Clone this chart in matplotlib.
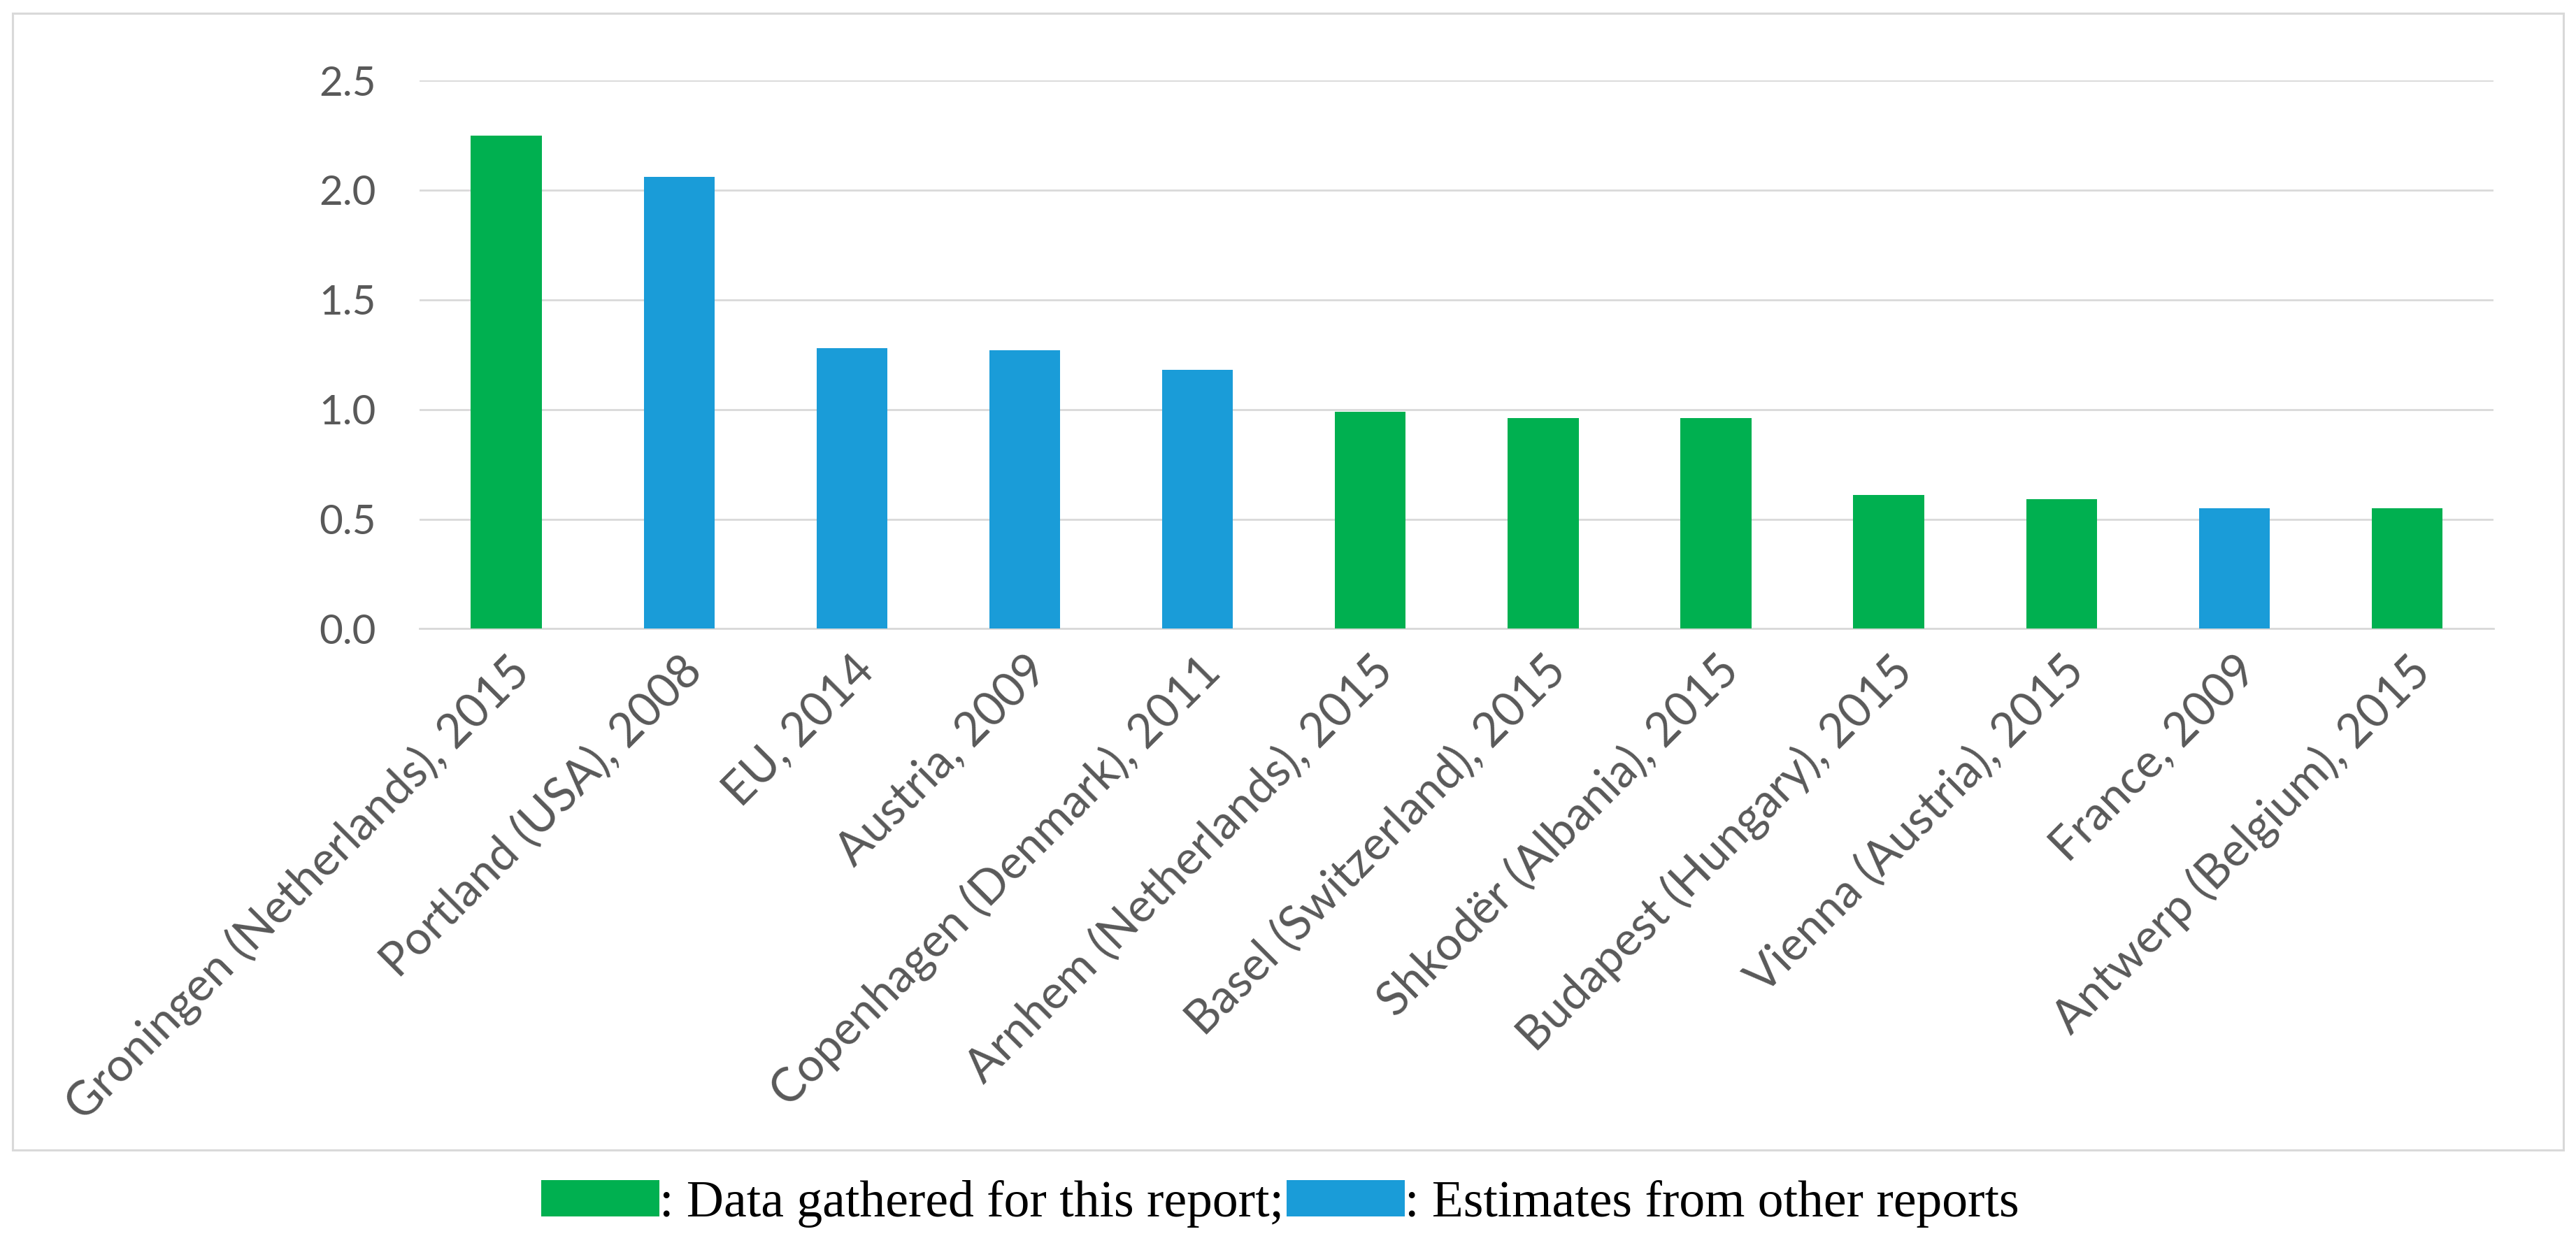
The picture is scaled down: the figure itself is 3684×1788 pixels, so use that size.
import matplotlib
matplotlib.use("Agg")
import matplotlib.pyplot as plt
from matplotlib.patches import Patch, Rectangle
from matplotlib.ticker import FormatStrFormatter

# values
categories = [
    "Groningen (Netherlands), 2015",
    "Portland (USA), 2008",
    "EU, 2014",
    "Austria, 2009",
    "Copenhagen (Denmark), 2011",
    "Arnhem (Netherlands), 2015",
    "Basel (Switzerland), 2015",
    "Shkodër (Albania), 2015",
    "Budapest (Hungary), 2015",
    "Vienna (Austria), 2015",
    "France, 2009",
    "Antwerp (Belgium), 2015",
]
values = [2.25, 2.06, 1.28, 1.27, 1.18, 0.99, 0.96, 0.96, 0.61, 0.59, 0.55, 0.55]
sources = ["own", "other", "other", "other", "other", "own",
           "own", "own", "own", "own", "other", "own"]
yticks = [0.0, 0.5, 1.0, 1.5, 2.0, 2.5]
legend_labels = [": Data gathered for this report;", ": Estimates from other reports"]

GREEN = "#00B050"
BLUE = "#1A9CD8"
GRID = "#D9D9D9"
TEXT = "#595959"
colors = [GREEN if s == "own" else BLUE for s in sources]

fig = plt.figure(figsize=(36.84, 17.88), dpi=100)
fig.patch.set_facecolor("white")

# outer chart frame
fig.add_artist(Rectangle((0.005, 0.08), 0.99, 0.9095, transform=fig.transFigure,
                         fill=False, edgecolor=GRID, linewidth=2.2))

ax = fig.add_axes([0.163, 0.497, 0.805, 0.4386])
x = list(range(len(categories)))
ax.bar(x, values, width=0.41, color=colors, zorder=3)

ax.set_xlim(-0.5, len(categories) - 0.5)
ax.set_ylim(0, 2.5)
ax.set_yticks(yticks)
ax.yaxis.set_major_formatter(FormatStrFormatter("%.1f"))
ax.grid(axis="y", color=GRID, linewidth=2.0, zorder=0)
for side in ["top", "right", "left"]:
    ax.spines[side].set_visible(False)
ax.spines["bottom"].set_color(GRID)
ax.spines["bottom"].set_linewidth(2.0)
ax.tick_params(axis="both", length=0, colors=TEXT)
ax.tick_params(axis="y", labelsize=42, pad=45)

ax.set_xticks(x)
ax.set_xticklabels(categories, rotation=45, ha="right", rotation_mode="anchor",
                   fontsize=48, color=TEXT)
ax.tick_params(axis="x", pad=20)
for lab in ax.get_xticklabels() + ax.get_yticklabels():
    lab.set_family(["Lato", "DejaVu Sans"])

handles = [Patch(facecolor=GREEN, edgecolor="none"), Patch(facecolor=BLUE, edgecolor="none")]
fig.legend(handles, legend_labels, loc="center", bbox_to_anchor=(0.497, 0.037),
           ncol=2, frameon=False, handlelength=2.3, handleheight=0.72,
           handletextpad=0.0, columnspacing=0.05,
           prop={"family": ["Liberation Serif", "DejaVu Serif"], "size": 53})

fig.savefig("out.png", dpi=100, facecolor="white")
